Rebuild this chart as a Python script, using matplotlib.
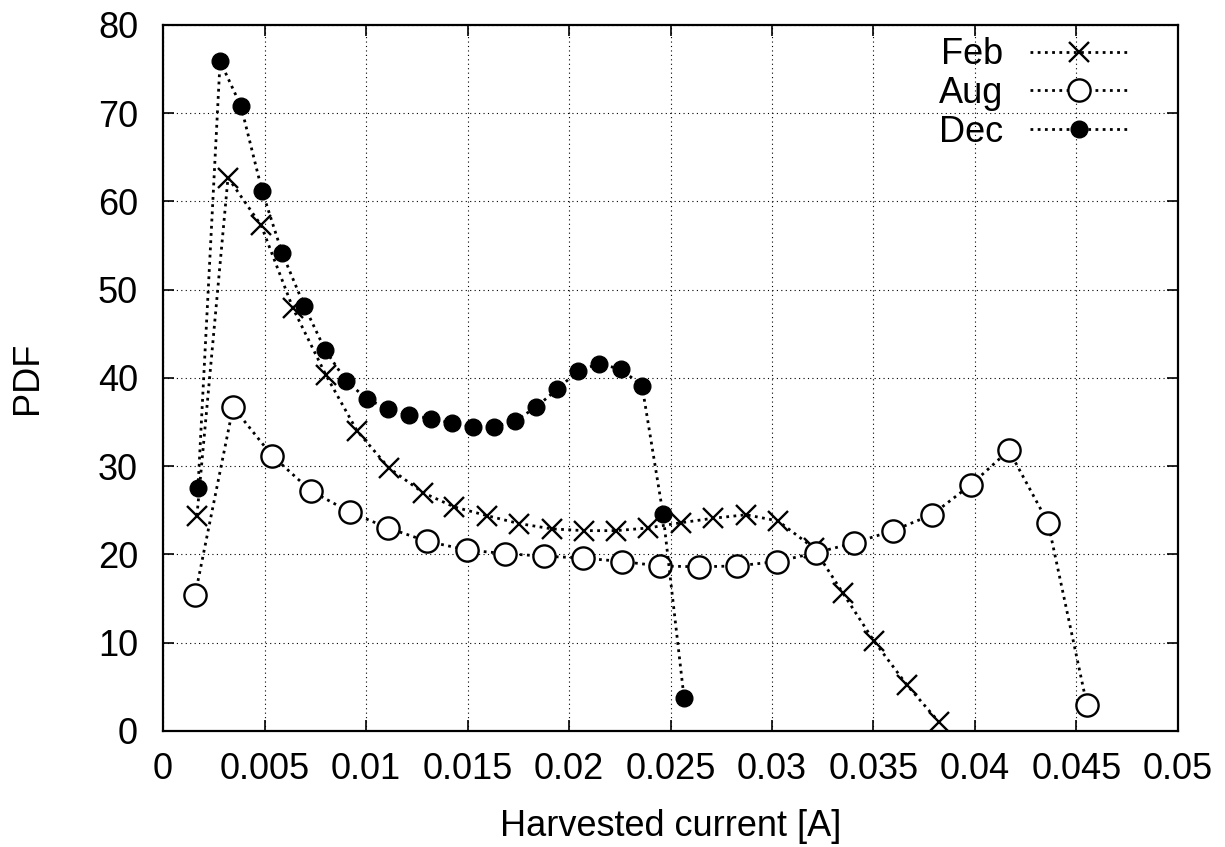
import matplotlib
matplotlib.use('Agg')
import matplotlib.pyplot as plt

plt.rcParams['font.family'] = ['Liberation Sans', 'DejaVu Sans']

# harvested current [A] and PDF for each month
feb_x = [0.00167, 0.00320, 0.00483, 0.00640, 0.00803, 0.00956, 0.01113, 0.01281,
         0.01433, 0.01596, 0.01754, 0.01916, 0.02074, 0.02232, 0.02389, 0.02552,
         0.02709, 0.02872, 0.03030, 0.03207, 0.03350, 0.03502, 0.03665, 0.03823]
feb_y = [24.4, 62.7, 57.3, 47.9, 40.3, 34.0, 29.8, 27.0, 25.4, 24.4, 23.5, 22.9,
         22.7, 22.7, 23.0, 23.6, 24.1, 24.5, 23.8, 20.7, 15.6, 10.2, 5.2, 1.0]

aug_x = [0.00158, 0.00345, 0.00537, 0.00729, 0.00921, 0.01108, 0.01300, 0.01498,
         0.01685, 0.01877, 0.02069, 0.02261, 0.02448, 0.02640, 0.02828, 0.03025,
         0.03217, 0.03404, 0.03596, 0.03788, 0.03980, 0.04167, 0.04360, 0.04552]
aug_y = [15.4, 36.7, 31.2, 27.2, 24.8, 23.0, 21.5, 20.5, 20.1, 19.8, 19.6, 19.2,
         18.7, 18.6, 18.7, 19.2, 20.2, 21.3, 22.7, 24.5, 27.9, 31.8, 23.6, 2.9]

dec_x = [0.00172, 0.00281, 0.00384, 0.00488, 0.00586, 0.00695, 0.00798, 0.00901,
         0.01005, 0.01108, 0.01212, 0.01320, 0.01424, 0.01527, 0.01631, 0.01734,
         0.01837, 0.01941, 0.02044, 0.02148, 0.02256, 0.02360, 0.02463, 0.02567]
dec_y = [27.5, 75.9, 70.8, 61.2, 54.2, 48.2, 43.2, 39.7, 37.6, 36.5, 35.8, 35.4,
         34.9, 34.5, 34.5, 35.1, 36.7, 38.7, 40.8, 41.6, 41.0, 39.1, 24.6, 3.7]

xticks = [0, 0.005, 0.01, 0.015, 0.02, 0.025, 0.03, 0.035, 0.04, 0.045, 0.05]
xticklabels = ['0', '0.005', '0.01', '0.015', '0.02', '0.025', '0.03', '0.035',
               '0.04', '0.045', '0.05']
yticks = [0, 10, 20, 30, 40, 50, 60, 70, 80]

fs = 26
dots = (0, (1, 1.6))

fig = plt.figure(figsize=(12.25, 8.47), dpi=100)
ax = fig.add_axes([0.1331, 0.1370, 0.8285, 0.8335])

ax.plot(feb_x, feb_y, color='black', linestyle=dots, linewidth=2,
        marker='x', markersize=15, markeredgewidth=1.7, label='Feb')
ax.plot(aug_x, aug_y, color='black', linestyle=dots, linewidth=2,
        marker='o', markersize=16, markerfacecolor='white',
        markeredgewidth=1.7, label='Aug')
ax.plot(dec_x, dec_y, color='black', linestyle=dots, linewidth=2,
        marker='o', markersize=12, markerfacecolor='black', label='Dec')

ax.set_xlim(0, 0.05)
ax.set_ylim(0, 80)
ax.set_xticks(xticks)
ax.set_xticklabels(xticklabels)
ax.set_yticks(yticks)
ax.tick_params(direction='in', length=8, width=1.2, top=True, right=True,
               labelsize=fs)
ax.tick_params(axis='x', pad=15)
ax.tick_params(axis='y', pad=18)
ax.grid(True, color='black', linestyle=(0, (1, 3)), linewidth=0.8)
for s in ax.spines.values():
    s.set_linewidth(1.6)

ax.set_xlabel('Harvested current [A]', fontsize=fs)
ax.set_ylabel('PDF', fontsize=fs)
ax.xaxis.set_label_coords(0.5, -0.11)
ax.yaxis.set_label_coords(-0.116, 0.5)

ax.legend(loc='upper right', bbox_to_anchor=(0.972, 1.013), frameon=False,
          markerfirst=False, numpoints=1, fontsize=fs, handlelength=2.7,
          handletextpad=0.75, labelspacing=0.1, borderpad=0.1)

fig.savefig('out.png', dpi=100)
